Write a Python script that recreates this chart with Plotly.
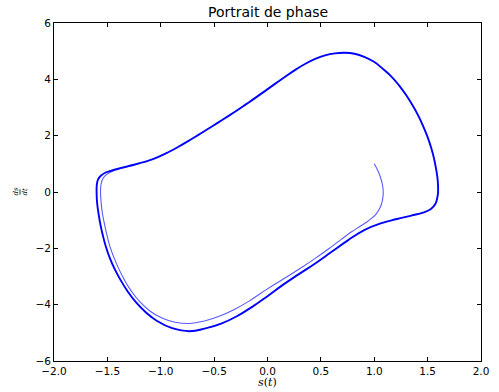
import plotly.graph_objects as go

# Limit cycle (thick line), clockwise starting on the right
s_cycle = [1.598, 1.590, 1.572, 1.531, 1.457, 1.347, 1.212, 1.060, 0.906, 0.753, 0.601, 0.447,
           0.294, 0.141, 0.000, -0.140, -0.287, -0.434, -0.581, -0.728, -0.893, -1.031, -1.141,
           -1.233, -1.311, -1.376, -1.431, -1.477, -1.513, -1.541, -1.564, -1.582, -1.596, -1.601,
           -1.599, -1.587, -1.559, -1.518, -1.463, -1.389, -1.298, -1.206, -1.114, -1.022, -0.930,
           -0.838, -0.747, -0.655, -0.563, -0.471, -0.379, -0.287, -0.196, -0.104, -0.012, 0.080,
           0.172, 0.264, 0.355, 0.447, 0.539, 0.631, 0.723, 0.815, 0.906, 0.998, 1.085, 1.163,
           1.232, 1.297, 1.356, 1.411, 1.457, 1.499, 1.534, 1.561, 1.581, 1.595, 1.598]
ds_cycle = [0.000, -0.213, -0.427, -0.605, -0.729, -0.836, -0.960, -1.113, -1.351, -1.718, -2.123, -2.536,
            -2.916, -3.307, -3.698, -4.068, -4.410, -4.673, -4.843, -4.943, -4.836, -4.587, -4.267,
            -3.912, -3.521, -3.129, -2.738, -2.347, -1.956, -1.565, -1.174, -0.782, -0.391, 0.000,
            0.249, 0.445, 0.587, 0.686, 0.754, 0.836, 0.925, 1.014, 1.117, 1.248, 1.412,
            1.599, 1.799, 2.009, 2.226, 2.447, 2.667, 2.893, 3.128, 3.369, 3.617, 3.866,
            4.111, 4.344, 4.554, 4.726, 4.851, 4.922, 4.943, 4.908, 4.801, 4.623, 4.356, 4.090,
            3.787, 3.450, 3.094, 2.720, 2.347, 1.956, 1.565, 1.174, 0.782, 0.391, 0.000]

# Transient (thin line), from the initial point (1, 1) until it joins the cycle
s_trans = [1.000, 1.035, 1.062, 1.079, 1.084, 1.076, 1.055, 1.017, 0.957, 0.879, 0.784, 0.691,
           0.601, 0.447, 0.294, 0.141, -0.012, -0.159, -0.306, -0.453, -0.590, -0.728, -0.866,
           -0.994, -1.105, -1.197, -1.275, -1.339, -1.394, -1.440, -1.477, -1.504, -1.527, -1.547,
           -1.559, -1.564, -1.561, -1.550, -1.527, -1.490, -1.435, -1.371, -1.288, -1.206]
ds_trans = [1.000, 0.747, 0.480, 0.213, -0.053, -0.302, -0.551, -0.782, -0.989, -1.191, -1.422, -1.682,
            -1.938, -2.358, -2.745, -3.105, -3.467, -3.841, -4.161, -4.410, -4.577, -4.669, -4.623,
            -4.463, -4.214, -3.894, -3.521, -3.129, -2.720, -2.312, -1.920, -1.529, -1.138, -0.747,
            -0.356, 0.000, 0.231, 0.409, 0.551, 0.665, 0.761, 0.832, 0.914, 0.999]

x_ticks = [-2.0, -1.5, -1.0, -0.5, 0.0, 0.5, 1.0, 1.5, 2.0]
y_ticks = [-6, -4, -2, 0, 2, 4, 6]
title = "Portrait de phase"

fig = go.Figure()
fig.add_trace(go.Scatter(x=s_trans, y=ds_trans, mode="lines",
                         line=dict(color="rgba(0,0,255,0.65)", width=1.1, shape="spline", smoothing=1.3),
                         hoverinfo="skip", showlegend=False))
fig.add_trace(go.Scatter(x=s_cycle, y=ds_cycle, mode="lines",
                         line=dict(color="#0000ff", width=1.9, shape="spline", smoothing=1.3),
                         hoverinfo="skip", showlegend=False))

axis_common = dict(showgrid=False, zeroline=False, showline=True, linecolor="black", linewidth=1,
                   mirror="allticks", ticks="inside", ticklen=4, tickcolor="black",
                   tickfont=dict(family="DejaVu Sans", size=10.5, color="black"))
fig.update_xaxes(range=[-2, 2], tickvals=x_ticks,
                 ticktext=[f"{v:.1f}".replace("-", "\u2212") for v in x_ticks], **axis_common)
fig.update_yaxes(range=[-6, 6], tickvals=y_ticks,
                 ticktext=[str(v).replace("-", "\u2212") for v in y_ticks], **axis_common)

fig.update_layout(
    width=499, height=392,
    margin=dict(l=53.5, r=10, t=23.3, b=31.3),
    paper_bgcolor="white", plot_bgcolor="white",
    annotations=[
        dict(text=title, xref="paper", yref="paper", x=0.5, y=1, xanchor="center", yanchor="bottom",
             yshift=1, showarrow=False, font=dict(family="DejaVu Sans", size=14, color="black")),
        dict(text="<i>s</i>(<i>t</i>)", xref="paper", yref="paper", x=0.5, y=0, xanchor="center",
             yanchor="top", yshift=-13, showarrow=False,
             font=dict(family="DejaVu Serif", size=11, color="black")),
        dict(text="<i>ds</i>", xref="paper", yref="paper", x=0, y=0.5, xanchor="center", yanchor="middle",
             xshift=-38.5, textangle=-90, showarrow=False,
             font=dict(family="DejaVu Serif", size=7, color="black")),
        dict(text="<i>dt</i>", xref="paper", yref="paper", x=0, y=0.5, xanchor="center", yanchor="middle",
             xshift=-29.5, textangle=-90, showarrow=False,
             font=dict(family="DejaVu Serif", size=7, color="black")),
    ],
    shapes=[dict(type="line", xref="paper", yref="paper", x0=-34, x1=-34, y0=0.492, y1=0.508,
                 xsizemode="pixel", xanchor=0, line=dict(color="black", width=0.8))],
)

fig.write_html("out.html")
